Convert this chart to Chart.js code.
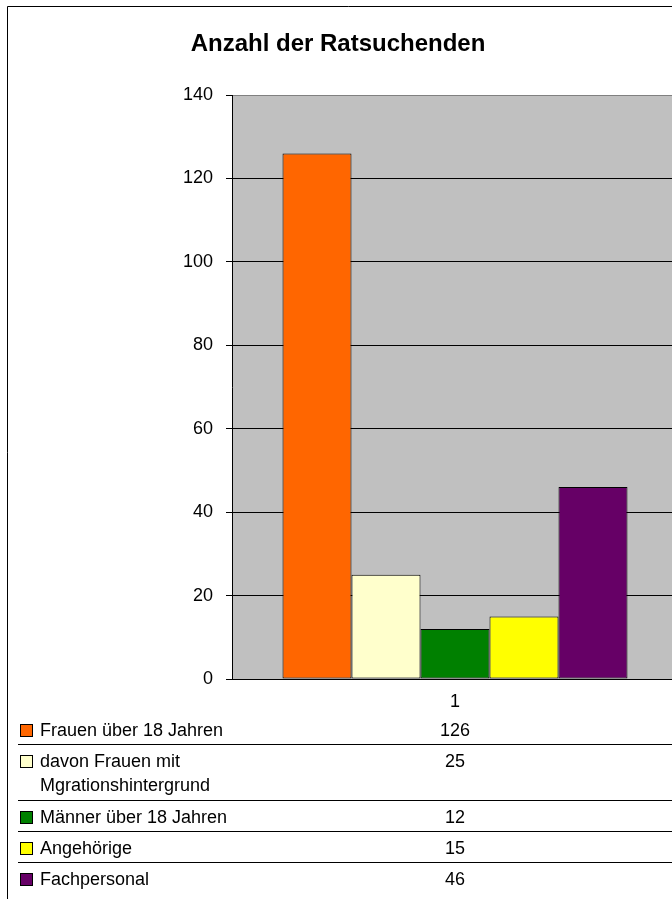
<!DOCTYPE html>
<html>
<head>
<meta charset="utf-8">
<script src="https://cdn.jsdelivr.net/npm/chart.js@4/dist/chart.umd.min.js"></script>
<style>
html,body{margin:0;padding:0;background:#fff;overflow:hidden;}
canvas{display:block;}
</style>
</head>
<body>
<canvas id="c" width="690" height="899"></canvas>
<script>
const titleText = 'Anzahl der Ratsuchenden';
const categories = ['1'];
const seriesNames = [
  ['Frauen über 18 Jahren'],
  ['davon Frauen mit', 'Mgrationshintergrund'],
  ['Männer über 18 Jahren'],
  ['Angehörige'],
  ['Fachpersonal']
];
const seriesValues = [[126], [25], [12], [15], [46]];
const seriesColors = ['#FF6600', '#FFFFCC', '#008000', '#FFFF00', '#660066'];
const yTicks = [0, 20, 40, 60, 80, 100, 120, 140];

const FONT = '"Liberation Sans", Arial, sans-serif';

const bgPlugin = {
  id: 'bg',
  beforeDraw(chart) {
    const {ctx, chartArea: a} = chart;
    ctx.save();
    ctx.fillStyle = '#fff';
    ctx.fillRect(0, 0, chart.width, chart.height);
    ctx.fillStyle = '#C0C0C0';
    ctx.fillRect(a.left, a.top, a.right - a.left, a.bottom - a.top);
    ctx.strokeStyle = '#000';
    ctx.lineWidth = 1;
    ctx.beginPath();
    ctx.moveTo(7.5, chart.height);
    ctx.lineTo(7.5, 6.5);
    ctx.lineTo(chart.width, 6.5);
    ctx.stroke();
    ctx.restore();
  },
  afterDraw(chart) {
    const {ctx} = chart;
    ctx.save();
    ctx.fillStyle = '#000';
    ctx.font = 'bold 24px ' + FONT;
    ctx.textAlign = 'center';
    ctx.textBaseline = 'middle';
    ctx.fillText(titleText, 338, 44);
    const xVal = chart.scales.x.getPixelForValue(0);
    let top = 713;
    ctx.font = '18px ' + FONT;
    chart.data.datasets.forEach((ds, i) => {
      const lines = seriesNames[i];
      const mid = top + 18;
      ctx.fillStyle = ds.backgroundColor;
      ctx.fillRect(21, mid - 6, 12, 12);
      ctx.strokeStyle = '#000';
      ctx.lineWidth = 1;
      ctx.strokeRect(20.5, mid - 6.5, 12, 12);
      ctx.fillStyle = '#000';
      ctx.textAlign = 'left';
      lines.forEach((ln, k) => ctx.fillText(ln, 40, mid + k * 24.5));
      ctx.textAlign = 'center';
      ctx.fillText(String(ds.data[0]), xVal, mid);
      const h = 31 + 25 * (lines.length - 1);
      top += h;
      if (i < chart.data.datasets.length - 1) {
        ctx.beginPath();
        ctx.moveTo(18, top + 0.5);
        ctx.lineTo(chart.width, top + 0.5);
        ctx.stroke();
      }
    });
    ctx.restore();
  }
};

new Chart(document.getElementById('c'), {
  type: 'bar',
  data: {
    labels: categories,
    datasets: seriesNames.map((n, i) => ({
      label: n.join(' '),
      data: seriesValues[i],
      backgroundColor: seriesColors[i],
      borderColor: '#000',
      borderWidth: 1,
      borderSkipped: false,
      categoryPercentage: 0.7735,
      barPercentage: 1.0
    }))
  },
  options: {
    responsive: false,
    devicePixelRatio: 1,
    animation: false,
    layout: {padding: {left: 0, top: 95, right: 12, bottom: 190}},
    plugins: {legend: {display: false}, title: {display: false}, tooltip: {enabled: false}},
    scales: {
      x: {
        afterFit(s) { s.height = 30; },
        grid: {display: false},
        border: {display: true, color: '#000', width: 1},
        ticks: {color: '#000', font: {family: FONT, size: 18}, padding: 4}
      },
      y: {
        min: 0, max: 140,
        afterFit(s) { s.width = 232; },
        afterBuildTicks(s) { s.ticks = yTicks.map(v => ({value: v})); },
        grid: {
          color: c => (c.tick && c.tick.value === 140) ? '#808080' : '#000',
          tickColor: '#000',
          tickLength: 6,
          lineWidth: 1
        },
        border: {display: true, color: '#000', width: 1},
        ticks: {color: '#000', font: {family: FONT, size: 18}, padding: 13}
      }
    }
  },
  plugins: [bgPlugin]
});
</script>
</body>
</html>
